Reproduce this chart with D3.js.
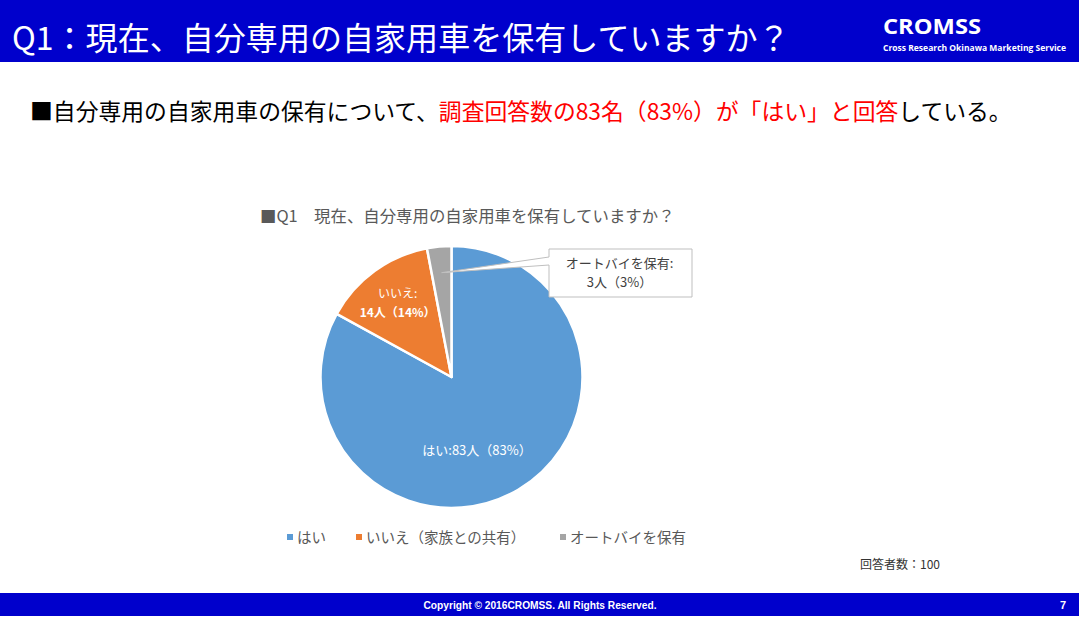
<!DOCTYPE html>
<html><head><meta charset="utf-8">
<script src="https://cdn.jsdelivr.net/npm/d3@7"></script>
<style>
html,body{margin:0;padding:0;background:#fff;}
svg{display:block;}
</style></head>
<body>
<svg id="chart" width="1079" height="618"></svg>
<script>
const categories = ["はい", "いいえ（家族との共有）", "オートバイを保有"];
const values = [83, 14, 3];
const shortLabels = ["はい", "いいえ", "オートバイを保有"];
const colors = ["#5B9BD5", "#ED7D31", "#A5A5A5"];
const total = 100;

const jp = "'Noto Sans CJK JP', 'Noto Sans', sans-serif";
const svg = d3.select("#chart");

// fit text to a target width by adjusting font-size
function fitWidth(sel, target){
  const node = sel.node();
  const fs = parseFloat(sel.attr("font-size"));
  const w = node.getComputedTextLength();
  if (w > 0) sel.attr("font-size", (fs * target / w).toFixed(2));
}

// header band
svg.append("rect").attr("x",0).attr("y",0).attr("width",1079).attr("height",62).attr("fill","#0000CC");
const title = svg.append("text").attr("x",12).attr("y",50).attr("fill","#fff")
  .attr("font-family",jp).attr("font-size",31)
  .text("Q1：現在、自分専用の自家用車を保有していますか？");
fitWidth(title, 778);
svg.append("text").attr("x",883).attr("y",34).attr("fill","#fff")
  .attr("font-family","'Open Sans', Lato, sans-serif").attr("font-weight","bold").attr("font-size",21)
  .attr("textLength",98).attr("lengthAdjust","spacingAndGlyphs").text("CROMSS");
svg.append("text").attr("x",883).attr("y",51).attr("fill","#fff")
  .attr("font-family","'Open Sans', Lato, sans-serif").attr("font-weight","bold").attr("font-size",8.5)
  .attr("textLength",183).attr("lengthAdjust","spacingAndGlyphs").text("Cross Research Okinawa Marketing Service");

// sub heading
const sub = svg.append("text").attr("x",30).attr("y",120)
  .attr("font-family",jp).attr("font-size",24).attr("fill","#000");
sub.append("tspan").text("■自分専用の自家用車の保有について、");
sub.append("tspan").attr("fill","#FF0000").text("調査回答数の" + values[0] + "名（" + Math.round(values[0]/total*100) + "%）が「" + categories[0] + "」と回答");
sub.append("tspan").text("している。");
fitWidth(sub, 982);

// chart title
const ct = svg.append("text").attr("x",260).attr("y",222)
  .attr("font-family",jp).attr("font-size",15).attr("fill","#595959")
  .text("■Q1　現在、自分専用の自家用車を保有していますか？");
fitWidth(ct, 415);

// pie
const cx = 451.5, cy = 377, R = 131;
const g = svg.append("g").attr("transform",`translate(${cx},${cy})`);
const pie = d3.pie().sort(null).value(d => d)(values);
const arc = d3.arc().innerRadius(0).outerRadius(R);
g.selectAll("path.slice").data(pie).join("path").attr("class","slice")
  .attr("d",arc).attr("fill",(d,i)=>colors[i])
  .attr("stroke","#fff").attr("stroke-width",2.5).attr("stroke-linejoin","round");

// labels
const pct = v => Math.round(v/total*100);
function polar(angle, r){ return [Math.sin(angle)*r, -Math.cos(angle)*r]; }
// はい label (best fit)
{
  const d = pie[0];
  const mid = (d.startAngle + d.endAngle)/2 + 0.22;
  const [x,y] = polar(mid, R*0.63);
  g.append("text").attr("x",x).attr("y",y).attr("text-anchor","middle")
    .attr("font-family",jp).attr("font-size",13).attr("fill","#fff")
    .text(shortLabels[0] + ":" + values[0] + "人（" + pct(values[0]) + "%）");
}
// いいえ label
{
  const d = pie[1];
  const mid = (d.startAngle + d.endAngle)/2;
  const [x,y] = polar(mid, R*0.7);
  const t = g.append("text").attr("text-anchor","middle")
    .attr("font-family",jp).attr("font-size",12).attr("fill","#fff");
  t.append("tspan").attr("x",x).attr("y",y-5).text(shortLabels[1] + ":");
  t.append("tspan").attr("x",x).attr("y",y+14).attr("font-weight","bold").text(values[1] + "人（" + pct(values[1]) + "%）");
}
// オートバイ callout
{
  const d = pie[2];
  const mid = (d.startAngle + d.endAngle)/2;
  const [px,py] = polar(mid, R*0.8);
  const bx = 549 - cx, by = 249 - cy, bw = 143, bh = 48;
  const path = d3.path();
  path.moveTo(bx, by);
  path.lineTo(bx+bw, by);
  path.lineTo(bx+bw, by+bh);
  path.lineTo(bx, by+bh);
  path.lineTo(bx, by+16);
  path.lineTo(px, py);
  path.lineTo(bx, by+8);
  path.closePath();
  g.append("path").attr("d",path.toString()).attr("fill","#fff").attr("stroke","#BFBFBF").attr("stroke-width",1);
  const t = g.append("text").attr("text-anchor","middle")
    .attr("font-family",jp).attr("font-size",13).attr("fill","#404040");
  t.append("tspan").attr("x",bx+bw/2-1).attr("y",by+19).text(shortLabels[2] + ":");
  t.append("tspan").attr("x",bx+bw/2-1).attr("y",by+38).text(values[2] + "人（" + pct(values[2]) + "%）");
}

// legend
const legendX = [287, 356, 560];
const lg = svg.append("g");
categories.forEach((c,i)=>{
  lg.append("rect").attr("x",legendX[i]).attr("y",534).attr("width",6).attr("height",6).attr("fill",colors[i]);
  lg.append("text").attr("x",legendX[i]+10).attr("y",543)
    .attr("font-family",jp).attr("font-size",14.5).attr("fill","#595959").text(c);
});

// respondents
svg.append("text").attr("x",860).attr("y",569)
  .attr("font-family",jp).attr("font-size",12).attr("fill","#333")
  .text("回答者数：" + total);

// footer
svg.append("rect").attr("x",0).attr("y",593).attr("width",1079).attr("height",23).attr("fill","#0000CC");
svg.append("text").attr("x",540).attr("y",609).attr("text-anchor","middle")
  .attr("font-family","'Liberation Sans', Arial, sans-serif").attr("font-weight","bold").attr("font-size",10).attr("fill","#fff")
  .attr("textLength",233).attr("lengthAdjust","spacingAndGlyphs")
  .text("Copyright © 2016CROMSS. All Rights Reserved.");
svg.append("text").attr("x",1066).attr("y",609).attr("text-anchor","end")
  .attr("font-family","'Liberation Sans', Arial, sans-serif").attr("font-weight","bold").attr("font-size",11).attr("fill","#fff")
  .text("7");
</script>
</body></html>
